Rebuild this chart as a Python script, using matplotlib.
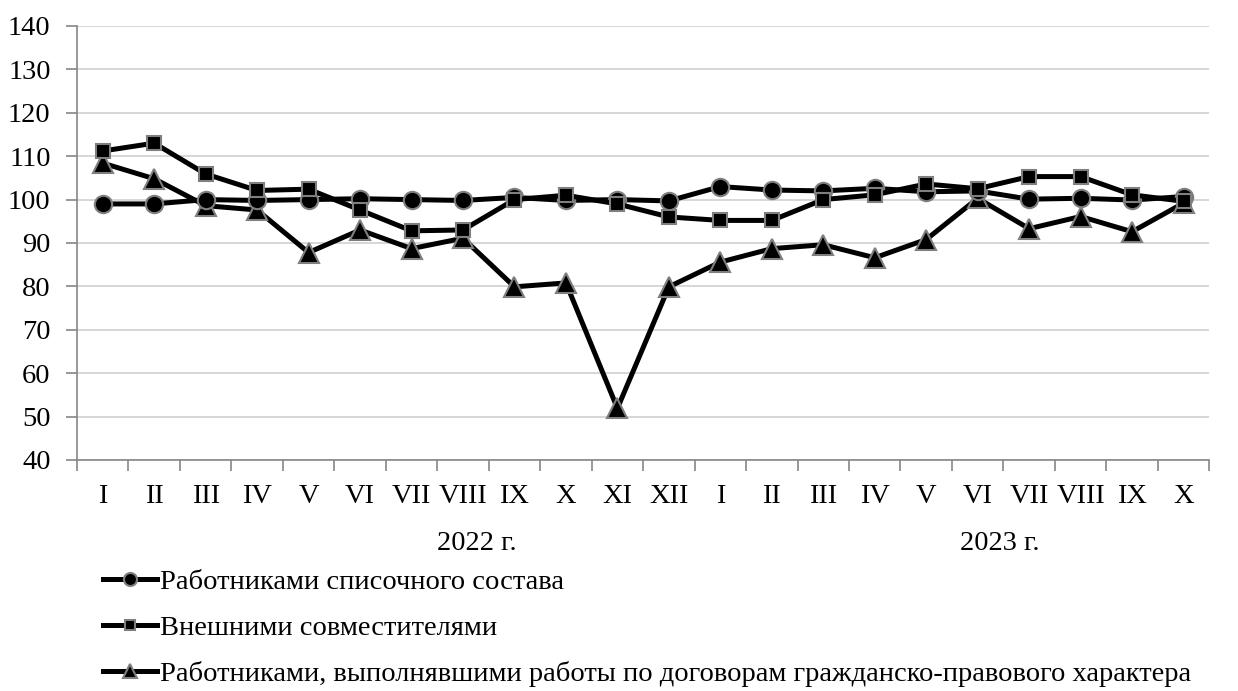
import matplotlib
matplotlib.use("Agg")
import matplotlib.pyplot as plt
from matplotlib.transforms import blended_transform_factory

plt.rcParams["font.family"] = ["Liberation Serif", "DejaVu Serif"]

# ---------------------------------------------------------------------------
# Data
# ---------------------------------------------------------------------------
months = ["I", "II", "III", "IV", "V", "VI", "VII", "VIII", "IX", "X", "XI", "XII",
          "I", "II", "III", "IV", "V", "VI", "VII", "VIII", "IX", "X"]

staff = [99.0, 99.0, 100.0, 99.8, 100.0, 100.2, 100.0, 99.8, 100.5, 99.8, 100.0, 99.7,
         103.0, 102.2, 102.0, 102.6, 101.8, 102.0, 100.1, 100.3, 99.9, 100.7]
external = [111.2, 113.0, 105.9, 102.1, 102.4, 97.6, 92.8, 93.0, 100.0, 101.0, 99.0, 96.0,
            95.2, 95.2, 100.0, 101.1, 103.6, 102.5, 105.3, 105.3, 101.1, 99.6]
contract = [108.4, 104.8, 98.6, 97.6, 87.8, 93.0, 88.7, 91.1, 79.9, 80.8, 51.9, 79.9,
            85.6, 88.7, 89.6, 86.6, 90.8, 100.3, 93.3, 96.1, 92.6, 99.2]

labels = ["Работниками списочного состава",
          "Внешними совместителями",
          "Работниками, выполнявшими работы по договорам гражданско-правового характера"]
years = ["2022 г.", "2023 г."]
year_pos = [7.27, 17.42]

FS = 20.5

# ---------------------------------------------------------------------------
# Plot
# ---------------------------------------------------------------------------
fig = plt.figure(figsize=(12.38, 6.91), dpi=100)
ax = fig.add_axes([0.0622, 0.3343, 0.9146, 0.6281])

x = list(range(len(months)))
style = dict(color="black", linewidth=3.6, markeredgecolor="#7f7f7f",
             markeredgewidth=1.5, markerfacecolor="black")
l1, = ax.plot(x, staff, marker="o", markersize=12.5, label=labels[0], zorder=4, **style)
l2, = ax.plot(x, external, marker="s", markersize=10.5, label=labels[1], zorder=5, **style)
l3, = ax.plot(x, contract, marker="^", markersize=14, label=labels[2], zorder=3, **style)

ax.set_xlim(-0.5, len(months) - 0.5)
ax.set_ylim(40, 140)
ax.set_yticks(range(40, 141, 10))
ax.yaxis.grid(True, color="#d0d0d0", linewidth=1.2)
ax.set_axisbelow(True)

ax.set_xticks(x)
ax.set_xticklabels(months)
ax.set_xticks([i - 0.5 for i in range(len(months) + 1)], minor=True)
ax.tick_params(axis="x", which="major", length=0, pad=17, labelsize=FS)
ax.tick_params(axis="x", which="minor", length=8, color="#868686", width=1.2)
ax.tick_params(axis="y", length=8, color="#868686", width=1.2, labelsize=FS, pad=11)

for side in ["top", "right"]:
    ax.spines[side].set_visible(False)
for side in ["left", "bottom"]:
    ax.spines[side].set_color("#868686")
    ax.spines[side].set_linewidth(1.2)

tr = blended_transform_factory(ax.transData, fig.transFigure)
for yr, xp in zip(years, year_pos):
    ax.text(xp, 1 - 543 / 691, yr, transform=tr, ha="center", va="center", fontsize=FS)

leg = fig.legend(handles=[l1, l2, l3], loc="upper left",
                 bbox_to_anchor=(0.083, 1 - 569 / 691), bbox_transform=fig.transFigure,
                 frameon=False, fontsize=FS, handlelength=1.9, handletextpad=0.1,
                 labelspacing=0.7, markerscale=0.75, borderaxespad=0, borderpad=0)

fig.savefig("out.png", dpi=100)
